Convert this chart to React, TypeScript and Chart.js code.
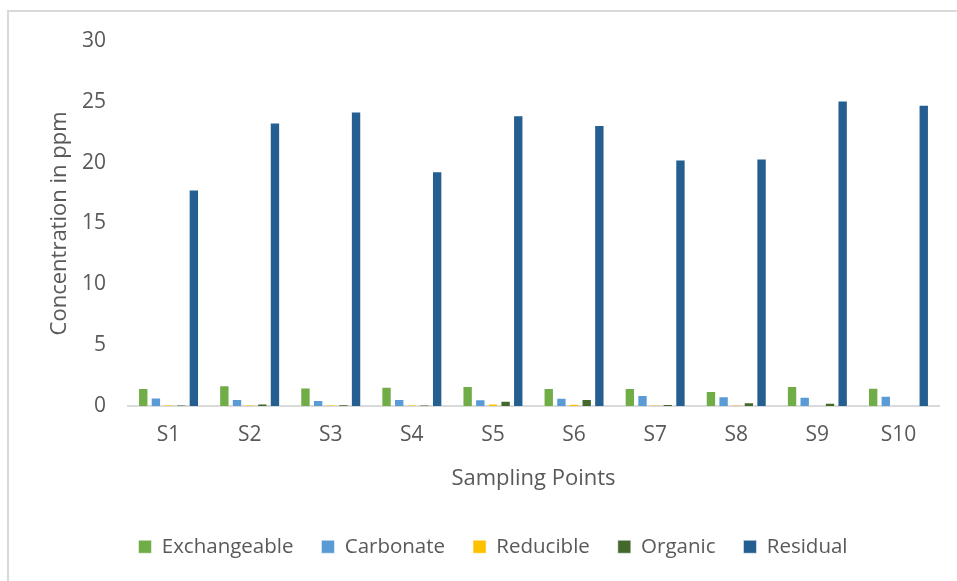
import React, { useEffect, useRef } from "react";
import { Chart, registerables } from "chart.js";

Chart.register(...registerables);

const categories = ["S1", "S2", "S3", "S4", "S5", "S6", "S7", "S8", "S9", "S10"];
const exchangeable = [1.48, 1.69, 1.52, 1.58, 1.63, 1.47, 1.47, 1.22, 1.63, 1.5];
const carbonate = [0.69, 0.57, 0.49, 0.57, 0.55, 0.68, 0.9, 0.8, 0.76, 0.84];
const reducible = [0.08, 0.08, 0.08, 0.08, 0.2, 0.18, 0.05, 0.06, 0, 0];
const organic = [0.08, 0.2, 0.12, 0.08, 0.43, 0.57, 0.15, 0.3, 0.25, 0];
const residual = [17.8, 23.3, 24.2, 19.3, 23.9, 23.1, 20.25, 20.35, 25.1, 24.75];
const yTicks = [0, 5, 10, 15, 20, 25, 30];

const FONT = "'Open Sans', sans-serif";
const TEXT = "#595959";

export default function App() {
  const ref = useRef<HTMLCanvasElement>(null);
  useEffect(() => {
    if (!ref.current) return;
    const mk = (label: string, data: number[], color: string) => ({
      label,
      data,
      backgroundColor: color,
      borderColor: "rgba(255,255,255,0.5)",
      borderWidth: 1,
      categoryPercentage: 0.78,
      barPercentage: 0.82,
    });
    const chart = new Chart(ref.current, {
      type: "bar",
      data: {
        labels: categories,
        datasets: [
          mk("Exchangeable", exchangeable, "#70AD47"),
          mk("Carbonate", carbonate, "#5B9BD5"),
          mk("Reducible", reducible, "#FFC000"),
          mk("Organic", organic, "#43682B"),
          mk("Residual", residual, "#255E91"),
        ],
      },
      options: {
        animation: false,
        responsive: false,
        layout: { padding: { left: 47, top: 41, right: 18, bottom: 14 } },
        plugins: {
          tooltip: { enabled: false },
          legend: {
            position: "bottom",
            labels: {
              boxWidth: 13,
              boxHeight: 13,
              padding: 28,
              color: TEXT,
              font: { family: FONT, size: 20.5 },
            },
          },
        },
        scales: {
          x: {
            grid: { display: false, drawTicks: false },
            border: { display: true, color: "#D9D9D9", width: 2 },
            ticks: { color: TEXT, font: { family: FONT, size: 21 }, padding: 17 },
            title: {
              display: true,
              text: "Sampling Points",
              color: TEXT,
              font: { family: FONT, size: 22 },
              padding: { top: 0, bottom: 17 },
            },
          },
          y: {
            min: 0,
            max: 30,
            afterBuildTicks: (s: any) => {
              s.ticks = yTicks.map((v) => ({ value: v }));
            },
            afterFit: (s: any) => {
              s.width = 81;
            },
            grid: { display: false, drawTicks: false },
            border: { display: false },
            ticks: { color: TEXT, font: { family: FONT, size: 21 }, padding: 22 },
            title: {
              display: true,
              text: "Concentration in ppm",
              color: TEXT,
              font: { family: FONT, size: 22 },
              padding: 0,
            },
          },
        },
      },
    });
    return () => chart.destroy();
  }, []);
  return (
    <div style={{ position: "fixed", left: 0, top: 0, width: 957, height: 581, background: "#fff", overflow: "hidden" }}>
      <div
        style={{
          position: "absolute",
          left: 7,
          top: 10,
          width: 1000,
          height: 700,
          borderLeft: "2px solid #D9D9D9",
          borderTop: "2px solid #D9D9D9",
        }}
      />
      <canvas ref={ref} width={957} height={581} style={{ position: "absolute", left: 0, top: 0 }} />
    </div>
  );
}
